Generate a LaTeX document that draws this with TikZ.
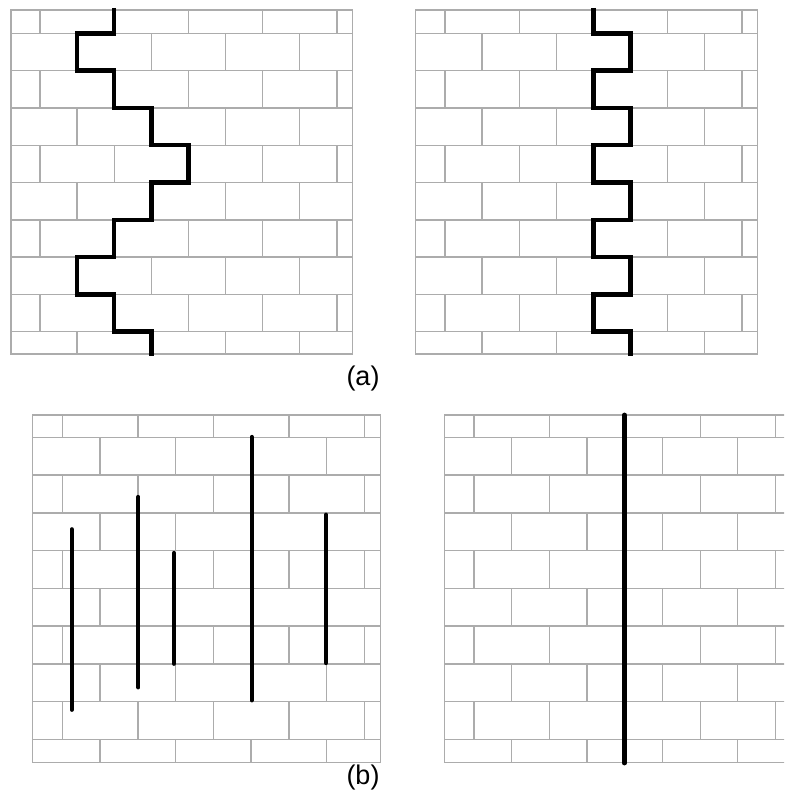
\documentclass[tikz,border=0pt]{standalone}
\usepackage{fontspec}
\setmainfont{Liberation Sans}
\definecolor{brickgray}{RGB}{172,172,172}
\tikzset{
  brick/.style={draw=brickgray, line width=1.4pt},
  crack/.style={draw=black, line width=4.5pt, line join=miter, line cap=butt},
  bar/.style={draw=black, line width=4.3pt, line cap=round},
  lbl/.style={font=\fontsize{27}{30}\selectfont, inner sep=0pt}
}
% #1 width, #2 height, #3 first joint line, #4 row height, #5 odd offset, #6 even offset, #7 brick length
\newcommand\mywall[7]{%
  \draw[brick] (0,0) rectangle (#1,#2);
  \foreach \k in {0,...,8} {\draw[brick] (0,{#3+#4*\k}) -- (#1,{#3+#4*\k});}
  \foreach \i in {0,...,9} {
    \pgfmathsetmacro\ytop{\i==0 ? 0 : #3+#4*(\i-1)}
    \pgfmathsetmacro\ybot{\i==9 ? #2 : #3+#4*\i}
    \pgfmathsetmacro\off{mod(\i,2)==0 ? #5 : #6}
    \pgfmathtruncatemacro\nk{mod(\i,2)==0 ? 4 : 3}
    \foreach \k in {0,...,\nk} {
      \draw[brick] ({\off+#7*\k},\ytop) -- ({\off+#7*\k},\ybot);
    }
  }
}
\begin{document}
\begin{tikzpicture}[x=1pt,y=-1pt]
\useasboundingbox (0,0) rectangle (784,800);
\fill[white] (0,0) rectangle (784,800);
\begin{scope}
\clip (0,0) rectangle (784,800);
% (a) left wall
\begin{scope}[shift={(11,10)}]
  \mywall{341.3}{344}{23.3}{37.3}{29}{66.1}{74.2}
\end{scope}
% (a) right wall
\begin{scope}[shift={(415.7,10)}]
  \mywall{342}{344}{23.3}{37.3}{29.3}{66.4}{74.2}
\end{scope}
% (b) left wall
\begin{scope}[shift={(32.7,415)}]
  \mywall{348}{347.7}{22.3}{37.75}{30}{67.3}{75.4}
\end{scope}
% (b) right wall (cut by the picture edge)
\begin{scope}[shift={(444.3,415)}]
  \mywall{348}{347.7}{22.3}{37.75}{29.7}{67.1}{75.4}
\end{scope}

% (a) left crack: stepped
\coordinate (al0) at (114.2,8);
\coordinate (al1) at (151.3,356);
\draw[crack] (al0) -- (114.2,33.3) -- (77.1,33.3) -- (77.1,70.6) -- (114.2,70.6)
  -- (114.2,107.9) -- (151.3,107.9) -- (151.3,145.2) -- (188.4,145.2)
  -- (188.4,182.5) -- (151.3,182.5) -- (151.3,219.8) -- (114.2,219.8)
  -- (114.2,257.1) -- (77.1,257.1) -- (77.1,294.4) -- (114.2,294.4)
  -- (114.2,331.7) -- (151.3,331.7) -- (al1);

% (a) right crack: toothed
\coordinate (ar0) at (593.4,8);
\coordinate (ar1) at (630.5,356);
\draw[crack] (ar0) -- (593.4,33.3) -- (630.5,33.3) -- (630.5,70.6) -- (593.4,70.6)
  -- (593.4,107.9) -- (630.5,107.9) -- (630.5,145.2) -- (593.4,145.2)
  -- (593.4,182.5) -- (630.5,182.5) -- (630.5,219.8) -- (593.4,219.8)
  -- (593.4,257.1) -- (630.5,257.1) -- (630.5,294.4) -- (593.4,294.4)
  -- (593.4,331.7) -- (630.5,331.7) -- (ar1);

% (b) left: separate vertical cracks
\coordinate (b1t) at (71.7,529.3);  \coordinate (b1b) at (71.7,709.7);
\coordinate (b2t) at (138.3,497);   \coordinate (b2b) at (138.3,687.3);
\coordinate (b3t) at (174,553);     \coordinate (b3b) at (174,663.7);
\coordinate (b4t) at (251.7,437);   \coordinate (b4b) at (251.7,700.3);
\coordinate (b5t) at (326,514.7);   \coordinate (b5b) at (326,663);
\draw[bar] (b1t) -- (b1b);
\draw[bar] (b2t) -- (b2b);
\draw[bar] (b3t) -- (b3b);
\draw[bar] (b4t) -- (b4b);
\draw[bar] (b5t) -- (b5b);

% (b) right: one straight crack
\coordinate (brt) at (624.3,415);
\coordinate (brb) at (624.3,763);
\draw[bar, line width=4.8pt] (brt) -- (brb);
\end{scope}

\node[lbl] (la) at (363,379) {(a)};
\node[lbl] (lb) at (363,778) {(b)};
\end{tikzpicture}
\end{document}
